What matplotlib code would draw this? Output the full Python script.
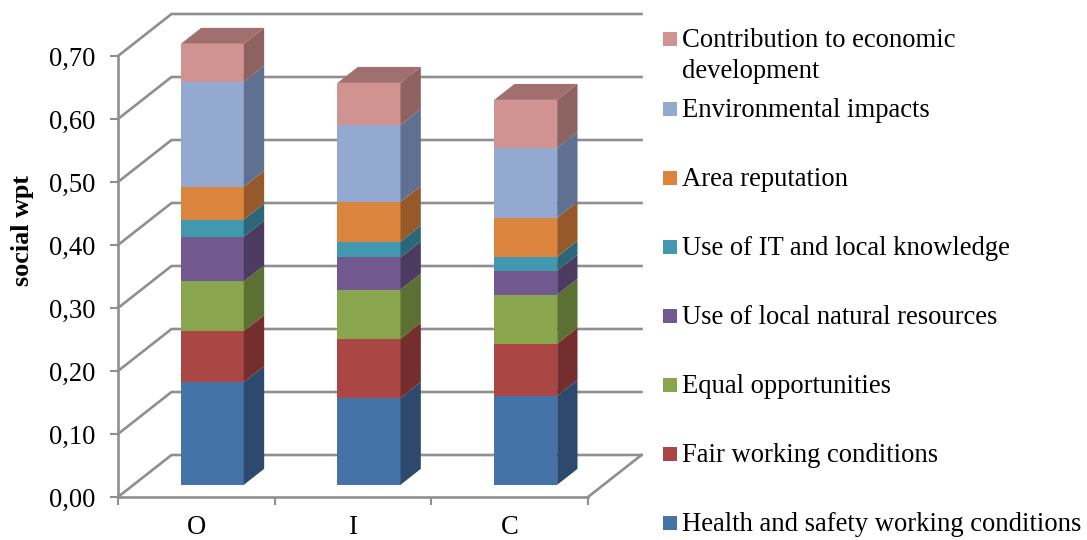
# 3D-look stacked bars, faked on a normal 2D axes with sheared polygons
import matplotlib
matplotlib.use("Agg")
import matplotlib.pyplot as plt
from matplotlib.patches import Polygon, Rectangle

plt.rcParams["font.family"] = ["Liberation Serif", "DejaVu Serif"]

categories = ["O", "I", "C"]
y_ticks = [0.0, 0.1, 0.2, 0.3, 0.4, 0.5, 0.6, 0.7]
y_labels = ["0,00", "0,10", "0,20", "0,30", "0,40", "0,50", "0,60", "0,70"]

health = [0.163, 0.138, 0.141]
fair = [0.081, 0.094, 0.083]
equal = [0.079, 0.078, 0.078]
natural = [0.071, 0.051, 0.038]
it_local = [0.027, 0.025, 0.022]
reputation = [0.052, 0.063, 0.062]
environment = [0.167, 0.122, 0.111]
economic = [0.060, 0.067, 0.076]

series = [health, fair, equal, natural, it_local, reputation, environment, economic]
front_colors = ["#4573A7", "#AA4644", "#89A54E", "#71588F", "#4198AF", "#DB843D", "#93A9CF", "#D19392"]
side_colors = ["#2D4A6E", "#732E2D", "#5C7034", "#4C3B60", "#2B6777", "#96592A", "#5F7090", "#8D6261"]
top_color = "#A06F6E"

legend_labels = [
    "Contribution to economic\ndevelopment",
    "Environmental impacts",
    "Area reputation",
    "Use of IT and local knowledge",
    "Use of local natural resources",
    "Equal opportunities",
    "Fair working conditions",
    "Health and safety working conditions",
]
legend_colors = front_colors[::-1]

W, H = 1087, 540
GRAY = "#8F8F8F"
TEXT = 19.2

fig = plt.figure(figsize=(W / 100, H / 100), dpi=100)
ax = fig.add_axes([118 / W, (H - 497) / H, 470 / W, 441 / H])
ax.set_xlim(0, 3)
ax.set_ylim(0, 0.7)

# depth of the box, in data units
dx = 53.5 / (470 / 3)
dy = 42 / 630
d_front = 0.29
d_back = 0.67
bar_w = 63 / (470 / 3)
bar_shift = 16 / (470 / 3)


def shift(x, y, d):
    return (x + d * dx, y + d * dy)


# walls
for t in y_ticks:
    ax.plot([0, dx, 3 + dx], [t, t + dy, t + dy], color=GRAY, lw=1.9,
            clip_on=False, zorder=1, solid_joinstyle="miter")
ax.plot([3, 3 + dx], [0, dy], color=GRAY, lw=1.9, clip_on=False, zorder=1)

# bars
for i in range(len(categories)):
    bottom = 0.0
    x0 = i + 0.5 + bar_shift - bar_w / 2 - d_front * dx
    x1 = x0 + bar_w
    for values, front, side in zip(series, front_colors, side_colors):
        v = values[i]
        fx, fy = shift(x0 + bar_w / 2, bottom, d_front)
        ax.bar(fx, v, bar_w, bottom=fy, color=front, linewidth=0, zorder=3, clip_on=False)
        a = shift(x1, bottom, d_front)
        b = shift(x1, bottom, d_back)
        c = shift(x1, bottom + v, d_back)
        e = shift(x1, bottom + v, d_front)
        ax.add_patch(Polygon([a, b, c, e], closed=True, facecolor=side, edgecolor="none",
                             zorder=3, clip_on=False))
        bottom += v
    top = [shift(x0, bottom, d_front), shift(x1, bottom, d_front),
           shift(x1, bottom, d_back), shift(x0, bottom, d_back)]
    ax.add_patch(Polygon(top, closed=True, facecolor=top_color, edgecolor="none",
                         zorder=3, clip_on=False))

# axes
for s in ["top", "right"]:
    ax.spines[s].set_visible(False)
for s in ["left", "bottom"]:
    ax.spines[s].set_color(GRAY)
    ax.spines[s].set_linewidth(1.9)
    ax.spines[s].set_zorder(2)

ax.set_yticks(y_ticks)
ax.set_yticklabels(y_labels, fontsize=TEXT)
ax.set_xticks([0, 1, 2, 3])
ax.set_xticklabels([])
ax.set_xticks([0.5, 1.5, 2.5], categories, minor=True, fontsize=TEXT)
ax.tick_params(axis="x", which="major", length=6, width=1.5, color=GRAY)
ax.tick_params(axis="x", which="minor", length=0, pad=13)
ax.tick_params(axis="y", length=5.5, width=1.5, color=GRAY, pad=11)
fig.text(22 / W, 1 - 231 / H, "social wpt", rotation=90, fontweight="bold",
         fontsize=18.8, ha="center", va="center")

# legend, spacing in the original is not even so it is placed by hand
legend_y = [39, 109, 178, 247, 316, 385, 454, 523]
for label, color, y in zip(legend_labels, legend_colors, legend_y):
    fig.patches.append(Rectangle((663 / W, 1 - (y + 7) / H), 13.5 / W, 14 / H,
                                 transform=fig.transFigure, facecolor=color,
                                 edgecolor="none", figure=fig))
    for k, line in enumerate(label.split("\n")):
        fig.text(682 / W, 1 - (y + 8 + 31 * k) / H, line, fontsize=TEXT, ha="left", va="baseline")

fig.savefig("out.png", dpi=100)
